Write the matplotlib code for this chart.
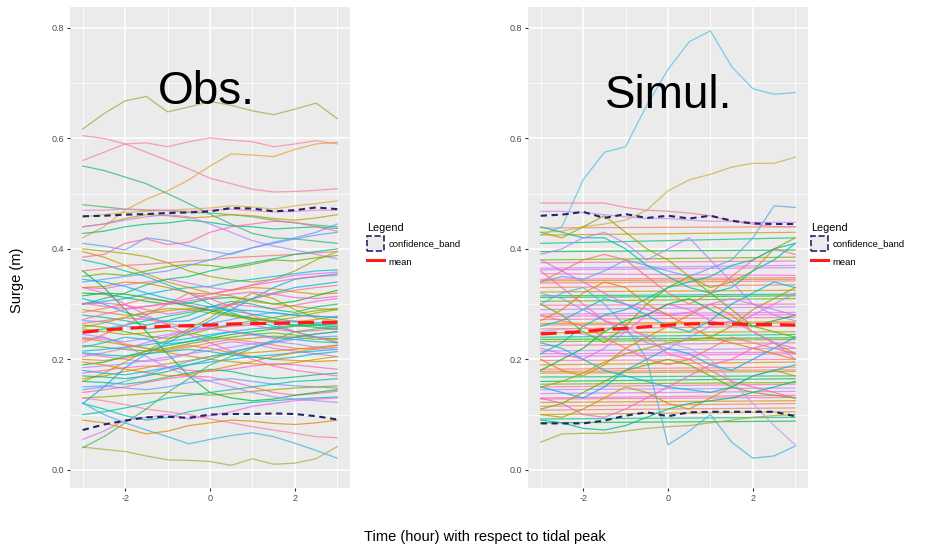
import numpy as np
import matplotlib
matplotlib.use("Agg")
import matplotlib.pyplot as plt
from matplotlib.lines import Line2D
from matplotlib.patches import Patch

plt.rcParams['font.family'] = ['Liberation Sans', 'DejaVu Sans']

# ---------------------------------------------------------------------
# data: surge (m) every half hour from -3 h to +3 h around tidal peak
# ---------------------------------------------------------------------
hours = [-3.0, -2.5, -2.0, -1.5, -1.0, -0.5, 0.0, 0.5, 1.0, 1.5, 2.0, 2.5, 3.0]

obs_events = [
    [0.617, 0.645, 0.668, 0.676, 0.648, 0.657, 0.667, 0.660, 0.650, 0.643, 0.653, 0.664, 0.636],
    [0.605, 0.600, 0.590, 0.575, 0.560, 0.545, 0.528, 0.518, 0.508, 0.503, 0.504, 0.506, 0.509],
    [0.560, 0.575, 0.590, 0.592, 0.585, 0.594, 0.601, 0.597, 0.594, 0.585, 0.590, 0.596, 0.590],
    [0.420, 0.440, 0.470, 0.490, 0.505, 0.525, 0.550, 0.572, 0.570, 0.567, 0.580, 0.590, 0.593],
    [0.550, 0.542, 0.530, 0.518, 0.500, 0.482, 0.463, 0.445, 0.428, 0.420, 0.418, 0.414, 0.410],
    [0.480, 0.476, 0.472, 0.470, 0.469, 0.466, 0.465, 0.462, 0.458, 0.452, 0.447, 0.443, 0.440],
    [0.458, 0.462, 0.466, 0.468, 0.470, 0.472, 0.474, 0.478, 0.476, 0.472, 0.478, 0.482, 0.487],
    [0.470, 0.470, 0.472, 0.471, 0.470, 0.468, 0.470, 0.472, 0.469, 0.467, 0.468, 0.470, 0.470],
    [0.440, 0.445, 0.455, 0.462, 0.460, 0.456, 0.458, 0.462, 0.460, 0.455, 0.452, 0.456, 0.462],
    [0.428, 0.432, 0.440, 0.445, 0.447, 0.452, 0.448, 0.442, 0.440, 0.436, 0.438, 0.440, 0.437],
    [0.410, 0.405, 0.398, 0.420, 0.415, 0.405, 0.396, 0.390, 0.402, 0.412, 0.420, 0.430, 0.445],
    [0.385, 0.390, 0.410, 0.418, 0.408, 0.412, 0.430, 0.440, 0.445, 0.450, 0.448, 0.440, 0.432],
    [0.400, 0.396, 0.392, 0.386, 0.375, 0.360, 0.350, 0.344, 0.340, 0.345, 0.360, 0.380, 0.395],
    [0.380, 0.372, 0.360, 0.350, 0.335, 0.320, 0.300, 0.285, 0.270, 0.260, 0.250, 0.240, 0.230],
    [0.440, 0.445, 0.452, 0.458, 0.462, 0.458, 0.445, 0.430, 0.415, 0.405, 0.398, 0.390, 0.382],
    [0.360, 0.365, 0.370, 0.372, 0.375, 0.378, 0.380, 0.384, 0.386, 0.388, 0.390, 0.393, 0.395],
    [0.350, 0.355, 0.352, 0.360, 0.368, 0.372, 0.370, 0.365, 0.372, 0.380, 0.378, 0.384, 0.388],
    [0.300, 0.305, 0.310, 0.318, 0.325, 0.330, 0.332, 0.340, 0.345, 0.350, 0.355, 0.360, 0.362],
    [0.330, 0.328, 0.335, 0.340, 0.345, 0.338, 0.330, 0.325, 0.335, 0.345, 0.352, 0.355, 0.358],
    [0.330, 0.332, 0.340, 0.338, 0.330, 0.320, 0.318, 0.325, 0.330, 0.328, 0.322, 0.318, 0.320],
    [0.320, 0.318, 0.312, 0.305, 0.300, 0.302, 0.310, 0.312, 0.308, 0.300, 0.305, 0.315, 0.325],
    [0.310, 0.300, 0.285, 0.275, 0.268, 0.270, 0.285, 0.300, 0.310, 0.320, 0.330, 0.335, 0.340],
    [0.300, 0.302, 0.298, 0.290, 0.282, 0.288, 0.295, 0.300, 0.296, 0.292, 0.298, 0.305, 0.310],
    [0.290, 0.285, 0.280, 0.282, 0.288, 0.292, 0.290, 0.282, 0.275, 0.270, 0.268, 0.272, 0.278],
    [0.280, 0.276, 0.270, 0.262, 0.270, 0.280, 0.295, 0.305, 0.300, 0.290, 0.285, 0.295, 0.300],
    [0.270, 0.268, 0.260, 0.255, 0.258, 0.262, 0.265, 0.272, 0.280, 0.285, 0.280, 0.278, 0.275],
    [0.265, 0.270, 0.275, 0.272, 0.265, 0.258, 0.255, 0.260, 0.262, 0.255, 0.250, 0.252, 0.256],
    [0.255, 0.250, 0.245, 0.248, 0.252, 0.248, 0.240, 0.236, 0.238, 0.242, 0.240, 0.236, 0.238],
    [0.250, 0.255, 0.262, 0.270, 0.278, 0.285, 0.290, 0.288, 0.282, 0.275, 0.268, 0.262, 0.258],
    [0.240, 0.236, 0.232, 0.238, 0.245, 0.252, 0.258, 0.262, 0.265, 0.268, 0.270, 0.265, 0.260],
    [0.235, 0.240, 0.228, 0.220, 0.215, 0.222, 0.230, 0.236, 0.232, 0.226, 0.220, 0.218, 0.222],
    [0.225, 0.222, 0.218, 0.215, 0.220, 0.228, 0.235, 0.240, 0.245, 0.248, 0.244, 0.240, 0.236],
    [0.215, 0.218, 0.222, 0.226, 0.232, 0.238, 0.245, 0.250, 0.255, 0.258, 0.262, 0.266, 0.268],
    [0.210, 0.205, 0.200, 0.196, 0.200, 0.210, 0.225, 0.232, 0.228, 0.220, 0.215, 0.210, 0.205],
    [0.200, 0.198, 0.202, 0.210, 0.218, 0.225, 0.220, 0.212, 0.205, 0.200, 0.198, 0.196, 0.198],
    [0.190, 0.195, 0.205, 0.215, 0.225, 0.232, 0.238, 0.245, 0.250, 0.255, 0.260, 0.262, 0.264],
    [0.180, 0.175, 0.172, 0.178, 0.185, 0.190, 0.195, 0.200, 0.205, 0.208, 0.212, 0.215, 0.218],
    [0.175, 0.180, 0.185, 0.188, 0.186, 0.180, 0.178, 0.182, 0.188, 0.192, 0.190, 0.186, 0.182],
    [0.165, 0.170, 0.178, 0.185, 0.192, 0.198, 0.205, 0.210, 0.212, 0.215, 0.218, 0.222, 0.225],
    [0.160, 0.158, 0.155, 0.160, 0.168, 0.175, 0.182, 0.178, 0.170, 0.165, 0.168, 0.172, 0.175],
    [0.150, 0.152, 0.148, 0.145, 0.150, 0.158, 0.162, 0.165, 0.160, 0.155, 0.152, 0.150, 0.148],
    [0.140, 0.145, 0.150, 0.158, 0.165, 0.170, 0.168, 0.160, 0.150, 0.140, 0.135, 0.138, 0.142],
    [0.130, 0.132, 0.135, 0.138, 0.140, 0.138, 0.135, 0.138, 0.142, 0.145, 0.148, 0.150, 0.152],
    [0.120, 0.110, 0.098, 0.090, 0.095, 0.105, 0.112, 0.118, 0.122, 0.125, 0.128, 0.130, 0.132],
    [0.130, 0.125, 0.118, 0.110, 0.105, 0.100, 0.092, 0.085, 0.078, 0.072, 0.066, 0.060, 0.058],
    [0.041, 0.037, 0.033, 0.025, 0.018, 0.017, 0.015, 0.008, 0.020, 0.010, 0.012, 0.020, 0.042],
    [0.121, 0.100, 0.085, 0.072, 0.060, 0.047, 0.055, 0.062, 0.067, 0.060, 0.048, 0.035, 0.021],
    [0.040, 0.060, 0.085, 0.110, 0.140, 0.165, 0.190, 0.205, 0.220, 0.235, 0.250, 0.255, 0.260],
    [0.055, 0.070, 0.090, 0.095, 0.100, 0.092, 0.098, 0.105, 0.115, 0.120, 0.125, 0.128, 0.130],
    [0.090, 0.085, 0.075, 0.065, 0.070, 0.080, 0.085, 0.090, 0.088, 0.084, 0.082, 0.085, 0.090],
    [0.360, 0.330, 0.290, 0.250, 0.210, 0.170, 0.140, 0.130, 0.125, 0.128, 0.135, 0.140, 0.145],
    [0.120, 0.150, 0.185, 0.210, 0.230, 0.250, 0.270, 0.290, 0.310, 0.330, 0.345, 0.350, 0.355],
    [0.330, 0.320, 0.300, 0.280, 0.262, 0.245, 0.230, 0.215, 0.200, 0.188, 0.180, 0.175, 0.170],
    [0.395, 0.385, 0.370, 0.355, 0.340, 0.330, 0.320, 0.315, 0.305, 0.300, 0.296, 0.292, 0.290],
    [0.300, 0.310, 0.320, 0.335, 0.345, 0.350, 0.360, 0.368, 0.375, 0.382, 0.390, 0.395, 0.400],
    [0.340, 0.345, 0.350, 0.355, 0.360, 0.370, 0.380, 0.392, 0.402, 0.410, 0.418, 0.425, 0.430],
    [0.230, 0.245, 0.262, 0.280, 0.300, 0.320, 0.310, 0.295, 0.280, 0.265, 0.250, 0.240, 0.232],
    [0.160, 0.175, 0.195, 0.215, 0.235, 0.255, 0.275, 0.300, 0.320, 0.310, 0.290, 0.275, 0.270],
    [0.100, 0.105, 0.112, 0.120, 0.130, 0.135, 0.140, 0.145, 0.150, 0.155, 0.160, 0.162, 0.165],
    [0.245, 0.240, 0.225, 0.205, 0.185, 0.170, 0.160, 0.150, 0.140, 0.132, 0.128, 0.125, 0.122],
    [0.285, 0.292, 0.300, 0.310, 0.305, 0.298, 0.290, 0.298, 0.310, 0.318, 0.325, 0.330, 0.334],
    [0.262, 0.258, 0.250, 0.242, 0.238, 0.245, 0.255, 0.262, 0.270, 0.276, 0.282, 0.288, 0.292],
    [0.222, 0.230, 0.240, 0.236, 0.228, 0.232, 0.242, 0.250, 0.246, 0.240, 0.236, 0.232, 0.230],
    [0.205, 0.212, 0.220, 0.230, 0.242, 0.250, 0.256, 0.250, 0.244, 0.238, 0.240, 0.246, 0.250],
    [0.195, 0.190, 0.182, 0.176, 0.170, 0.172, 0.180, 0.188, 0.196, 0.205, 0.212, 0.220, 0.226],
    [0.315, 0.320, 0.318, 0.312, 0.305, 0.296, 0.288, 0.280, 0.274, 0.268, 0.262, 0.258, 0.254],
    [0.345, 0.340, 0.332, 0.320, 0.310, 0.302, 0.295, 0.290, 0.288, 0.284, 0.280, 0.278, 0.276],
    [0.272, 0.282, 0.290, 0.296, 0.300, 0.306, 0.312, 0.318, 0.322, 0.318, 0.312, 0.310, 0.314],
    [0.238, 0.232, 0.226, 0.220, 0.212, 0.206, 0.200, 0.196, 0.192, 0.190, 0.194, 0.200, 0.205],
    [0.170, 0.168, 0.165, 0.170, 0.178, 0.190, 0.200, 0.212, 0.222, 0.232, 0.240, 0.246, 0.250],
    [0.145, 0.150, 0.160, 0.172, 0.185, 0.196, 0.205, 0.214, 0.222, 0.230, 0.236, 0.240, 0.242],
    [0.302, 0.296, 0.292, 0.296, 0.302, 0.310, 0.318, 0.326, 0.334, 0.340, 0.346, 0.350, 0.352],
    [0.258, 0.266, 0.276, 0.286, 0.292, 0.290, 0.284, 0.278, 0.272, 0.270, 0.276, 0.284, 0.290],
    [0.212, 0.208, 0.206, 0.210, 0.214, 0.218, 0.214, 0.208, 0.204, 0.200, 0.204, 0.210, 0.214],
    [0.185, 0.188, 0.192, 0.198, 0.204, 0.210, 0.216, 0.222, 0.228, 0.232, 0.228, 0.222, 0.218],
]
# colours of the events that stand out from the bundle
obs_named_colors = {0: '#8DB43F', 1: '#F77FAA', 2: '#F7879B', 3: '#E9A23B', 4: '#2DB47E',
                    5: '#3FB867', 6: '#D7B53A', 7: '#F47FD0', 44: '#F77FAA', 45: '#A8AE3A',
                    46: '#3DB3E8', 47: '#3FB867'}
obs_mean = [0.249, 0.253, 0.256, 0.258, 0.260, 0.261, 0.262, 0.264, 0.265, 0.265, 0.266, 0.267, 0.267]
obs_upper = [0.459, 0.460, 0.462, 0.463, 0.465, 0.466, 0.468, 0.474, 0.473, 0.468, 0.470, 0.475, 0.472]
obs_lower = [0.072, 0.082, 0.089, 0.095, 0.096, 0.094, 0.100, 0.101, 0.101, 0.102, 0.101, 0.097, 0.091]

simul_events = [
    [0.425, 0.440, 0.525, 0.575, 0.585, 0.660, 0.725, 0.775, 0.795, 0.730, 0.690, 0.680, 0.683],
    [0.430, 0.432, 0.440, 0.445, 0.452, 0.470, 0.505, 0.525, 0.535, 0.548, 0.555, 0.555, 0.566],
    [0.483, 0.483, 0.483, 0.483, 0.475, 0.470, 0.468, 0.465, 0.460, 0.450, 0.445, 0.440, 0.440],
    [0.468, 0.468, 0.466, 0.462, 0.458, 0.455, 0.455, 0.452, 0.450, 0.450, 0.448, 0.448, 0.448],
    [0.340, 0.350, 0.345, 0.360, 0.380, 0.370, 0.360, 0.350, 0.365, 0.380, 0.420, 0.478, 0.475],
    [0.300, 0.320, 0.330, 0.300, 0.260, 0.200, 0.045, 0.070, 0.100, 0.050, 0.021, 0.025, 0.043],
    [0.250, 0.255, 0.245, 0.240, 0.250, 0.245, 0.230, 0.220, 0.200, 0.160, 0.120, 0.080, 0.045],
    [0.430, 0.420, 0.440, 0.460, 0.430, 0.400, 0.380, 0.350, 0.330, 0.340, 0.360, 0.400, 0.420],
    [0.440, 0.430, 0.420, 0.420, 0.400, 0.370, 0.350, 0.330, 0.320, 0.330, 0.360, 0.380, 0.410],
    [0.390, 0.400, 0.420, 0.430, 0.410, 0.380, 0.400, 0.420, 0.380, 0.340, 0.300, 0.280, 0.270],
    [0.340, 0.360, 0.380, 0.390, 0.380, 0.350, 0.320, 0.300, 0.320, 0.350, 0.380, 0.400, 0.390],
    [0.300, 0.280, 0.250, 0.230, 0.260, 0.300, 0.330, 0.350, 0.320, 0.290, 0.260, 0.250, 0.240],
    [0.260, 0.270, 0.290, 0.310, 0.300, 0.280, 0.260, 0.250, 0.270, 0.300, 0.320, 0.340, 0.330],
    [0.220, 0.210, 0.200, 0.220, 0.250, 0.280, 0.300, 0.290, 0.270, 0.260, 0.280, 0.300, 0.320],
    [0.200, 0.180, 0.170, 0.190, 0.220, 0.240, 0.260, 0.280, 0.300, 0.280, 0.250, 0.230, 0.210],
    [0.180, 0.200, 0.220, 0.250, 0.270, 0.280, 0.300, 0.310, 0.290, 0.270, 0.260, 0.270, 0.280],
    [0.150, 0.140, 0.130, 0.150, 0.180, 0.200, 0.220, 0.210, 0.190, 0.180, 0.200, 0.220, 0.240],
    [0.130, 0.120, 0.100, 0.095, 0.110, 0.130, 0.150, 0.170, 0.190, 0.200, 0.220, 0.230, 0.220],
    [0.100, 0.095, 0.110, 0.130, 0.150, 0.140, 0.120, 0.110, 0.130, 0.150, 0.170, 0.180, 0.170],
    [0.090, 0.085, 0.075, 0.072, 0.080, 0.095, 0.110, 0.120, 0.125, 0.130, 0.140, 0.150, 0.160],
    [0.050, 0.065, 0.066, 0.066, 0.070, 0.075, 0.078, 0.080, 0.085, 0.090, 0.095, 0.098, 0.100],
    [0.360, 0.330, 0.300, 0.270, 0.260, 0.240, 0.210, 0.200, 0.180, 0.160, 0.150, 0.140, 0.130],
    [0.150, 0.160, 0.175, 0.195, 0.210, 0.220, 0.230, 0.235, 0.240, 0.260, 0.290, 0.310, 0.330],
    [0.210, 0.230, 0.260, 0.280, 0.290, 0.310, 0.330, 0.340, 0.350, 0.370, 0.380, 0.400, 0.410],
    [0.320, 0.310, 0.290, 0.270, 0.250, 0.230, 0.220, 0.240, 0.260, 0.270, 0.250, 0.230, 0.200],
    [0.280, 0.270, 0.260, 0.240, 0.220, 0.200, 0.190, 0.200, 0.220, 0.240, 0.230, 0.220, 0.210],
    [0.110, 0.120, 0.140, 0.160, 0.180, 0.190, 0.200, 0.190, 0.170, 0.150, 0.140, 0.135, 0.130],
    [0.230, 0.220, 0.200, 0.180, 0.170, 0.160, 0.150, 0.145, 0.140, 0.150, 0.170, 0.180, 0.190],
    [0.380, 0.360, 0.340, 0.320, 0.300, 0.290, 0.280, 0.285, 0.300, 0.310, 0.300, 0.290, 0.280],
    [0.270, 0.290, 0.320, 0.340, 0.330, 0.300, 0.280, 0.260, 0.240, 0.230, 0.220, 0.210, 0.200],
]
simul_named_colors = {0: '#5EC2E8', 1: '#C8B548', 2: '#F77FAA', 3: '#D58CF0', 4: '#5FA8F0',
                      5: '#49B6E6', 6: '#B9A2F0', 20: '#A8AE3A'}
# near-constant simulated events: level at -3 h and at +3 h
simul_flat_start = [0.438, 0.425, 0.410, 0.395, 0.380, 0.375, 0.365, 0.362, 0.355, 0.345,
                    0.342, 0.338, 0.330, 0.322, 0.315, 0.312, 0.305, 0.298, 0.290, 0.282,
                    0.278, 0.272, 0.265, 0.262, 0.255, 0.248, 0.240, 0.236, 0.232, 0.225,
                    0.215, 0.210, 0.205, 0.198, 0.190, 0.182, 0.178, 0.175, 0.168, 0.160,
                    0.155, 0.150, 0.145, 0.138, 0.130, 0.128, 0.122, 0.115, 0.108, 0.100,
                    0.092, 0.085]
simul_flat_end = [0.440, 0.430, 0.420, 0.398, 0.385, 0.378, 0.370, 0.366, 0.352, 0.348,
                  0.345, 0.342, 0.335, 0.325, 0.318, 0.315, 0.310, 0.300, 0.295, 0.285,
                  0.281, 0.276, 0.268, 0.266, 0.260, 0.250, 0.245, 0.239, 0.236, 0.230,
                  0.220, 0.213, 0.210, 0.200, 0.195, 0.186, 0.181, 0.178, 0.170, 0.165,
                  0.158, 0.155, 0.148, 0.142, 0.135, 0.131, 0.125, 0.120, 0.112, 0.105,
                  0.095, 0.088]
simul_mean = [0.246, 0.248, 0.250, 0.254, 0.256, 0.259, 0.262, 0.264, 0.265, 0.264, 0.263, 0.263, 0.262]
simul_upper = [0.460, 0.462, 0.467, 0.456, 0.463, 0.456, 0.460, 0.455, 0.460, 0.451, 0.446, 0.445, 0.445]
simul_lower = [0.084, 0.084, 0.084, 0.089, 0.098, 0.104, 0.097, 0.104, 0.105, 0.105, 0.105, 0.105, 0.097]

# ggplot2 default hue palette
hue_colors = ['#F8766D', '#E58700', '#C99800', '#A3A500', '#6BB100', '#00BA38', '#00BF7D',
              '#00C0AF', '#00BCD8', '#00B0F6', '#619CFF', '#B983FF', '#E76BF3', '#FD61D1', '#FF67A4']
# the nearly flat simulated events are mostly warm / green hues
flat_colors = ['#F8766D', '#FF67A4', '#E58700', '#00BA38', '#FD61D1', '#C99800', '#B983FF',
               '#F8766D', '#6BB100', '#FF67A4', '#00BF7D', '#E76BF3']

band_color = '#24246b'
mean_color = '#FF1A1A'
panel_bg = '#EBEBEB'

# ---------------------------------------------------------------------
# figure
# ---------------------------------------------------------------------
fig = plt.figure(figsize=(9.31, 5.47), dpi=100)
ax_obs = fig.add_axes([70 / 931, 1 - 488 / 547, 280 / 931, 481 / 547])
ax_sim = fig.add_axes([528 / 931, 1 - 488 / 547, 280 / 931, 481 / 547])


def style_panel(ax):
    ax.set_facecolor(panel_bg)
    ax.set_xlim(-3.3, 3.3)
    ax.set_ylim(-0.033, 0.838)
    ax.set_xticks([-2, 0, 2])
    ax.set_xticklabels(['-2', '0', '2'])
    ax.set_yticks([0.0, 0.2, 0.4, 0.6, 0.8])
    ax.set_yticklabels(['0.0', '0.2', '0.4', '0.6', '0.8'])
    ax.set_xticks([-3, -1, 1, 3], minor=True)
    ax.set_yticks([0.1, 0.3, 0.5, 0.7], minor=True)
    ax.grid(which='major', color='white', linewidth=1.1)
    ax.grid(which='minor', color='white', linewidth=0.55)
    ax.set_axisbelow(True)
    for s in ax.spines.values():
        s.set_visible(False)
    ax.tick_params(which='major', length=2.5, width=0.8, color='#333333',
                   labelsize=6.5, labelcolor='#4D4D4D', pad=2)
    ax.tick_params(which='minor', length=0)


def draw_summary(ax, mean, upper, lower):
    ax.plot(hours, upper, color=band_color, linewidth=1.5, dashes=(3, 2.2))
    ax.plot(hours, lower, color=band_color, linewidth=1.5, dashes=(3, 2.2))
    ax.plot(hours, mean, color=mean_color, linewidth=2.3, dashes=(5, 2.5))


style_panel(ax_obs)
style_panel(ax_sim)

for i, ev in enumerate(obs_events):
    c = obs_named_colors.get(i, hue_colors[(i * 4) % len(hue_colors)])
    ax_obs.plot(hours, ev, color=c, linewidth=0.9, alpha=0.75)
draw_summary(ax_obs, obs_mean, obs_upper, obs_lower)

for i, (a, b) in enumerate(zip(simul_flat_start, simul_flat_end)):
    ax_sim.plot([hours[0], hours[-1]], [a, b], color=flat_colors[(i * 5) % len(flat_colors)],
                linewidth=0.9, alpha=0.7)
for i, ev in enumerate(simul_events):
    c = simul_named_colors.get(i, hue_colors[(i * 4 + 5) % len(hue_colors)])
    ax_sim.plot(hours, ev, color=c, linewidth=0.9, alpha=0.8)
draw_summary(ax_sim, simul_mean, simul_upper, simul_lower)

# big panel titles
ax_obs.text(0.486, 0.823, 'Obs.', transform=ax_obs.transAxes, fontsize=33,
            ha='center', va='center', color='black')
ax_sim.text(0.504, 0.815, 'Simul.', transform=ax_sim.transAxes, fontsize=33,
            ha='center', va='center', color='black')

# legends
for x0 in (363 / 931, 807 / 931):
    handles = [Patch(facecolor=panel_bg, edgecolor=band_color, linestyle='--', linewidth=1.2),
               Line2D([0], [0], color=mean_color, linewidth=2.2)]
    leg = fig.legend(handles, ['confidence_band', 'mean'], title='Legend',
                     loc='upper left', bbox_to_anchor=(x0, 1 - 219 / 547),
                     frameon=False, fontsize=6.8, title_fontsize=7.8,
                     handlelength=1.8, handleheight=2.1, handletextpad=0.5,
                     labelspacing=0.35, borderaxespad=0)
    leg._legend_box.align = 'left'

fig.text(17 / 931, 1 - 280 / 547, 'Surge (m)', rotation=90, ha='center', va='center',
         fontsize=10.5, color='black')
fig.text(485 / 931, 1 - 537 / 547, 'Time (hour) with respect to tidal peak',
         ha='center', va='center', fontsize=10.5, color='black')

fig.savefig('out.png', dpi=100)
